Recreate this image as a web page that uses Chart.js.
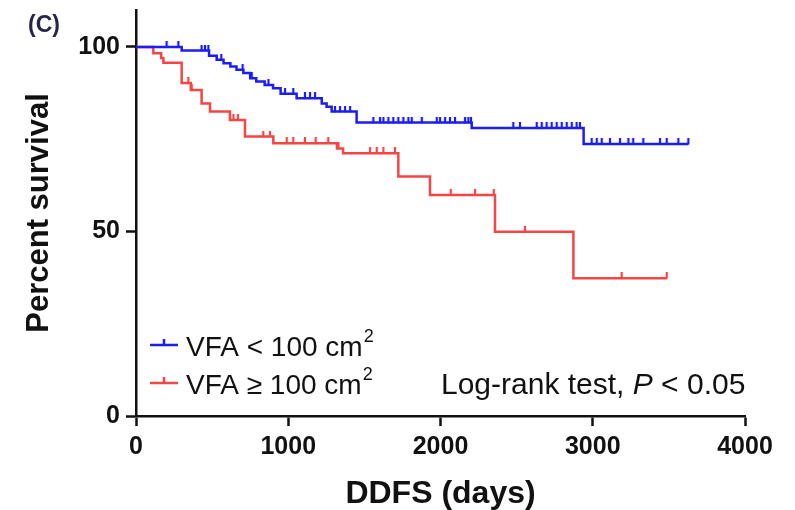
<!DOCTYPE html>
<html>
<head>
  <meta charset="utf-8">
  <title>DDFS by VFA</title>
  <script src="https://cdn.jsdelivr.net/npm/chart.js"></script>
  <style>
    body {
      margin: 0;
      background-color: #fff;
    }
    #wrap {
      width: 795px;
      height: 510px;
    }
  </style>
</head>
<body>
  <div id="wrap"><canvas id="chart"></canvas></div>
  <script>
    // Kaplan-Meier steps: day where survival changes, survival (%) after it
    const blueDays = [0, 300, 480, 530, 575, 620, 660, 705, 750, 790, 845, 900, 950, 1055, 1220, 1252, 1285, 1449, 2205, 2940, 3628];
    const blueSurv = [100, 99.0, 97.6, 96.5, 95.6, 94.7, 93.8, 92.9, 91.5, 90.6, 89.7, 88.8, 87.3, 86.1, 84.7, 83.8, 82.5, 79.5, 78.0, 73.7, 73.7];
    const blueCensor = [201, 278, 431, 453, 475, 560, 700, 760, 870, 979, 1033, 1110, 1143, 1176, 1307, 1340, 1373, 1406,
      1559, 1603, 1625, 1658, 1690, 1723, 1756, 1789, 1811, 1877, 1975, 1997, 2030, 2062, 2095, 2161, 2183, 2200,
      2478, 2522, 2632, 2665, 2697, 2730, 2763, 2796, 2829, 2862, 2894, 2916,
      2993, 3026, 3059, 3113, 3179, 3234, 3266, 3332, 3442, 3486, 3562, 3628];

    const redDays = [0, 114, 165, 180, 300, 360, 431, 486, 617, 716, 902, 1320, 1360, 1723, 1931, 2358, 2873, 3486];
    const redSurv = [100, 98.3, 97.0, 95.7, 90.2, 88.3, 84.7, 82.5, 80.2, 75.7, 73.9, 72.5, 71.2, 64.9, 59.9, 49.9, 37.3, 37.3];
    const redCensor = [344, 366, 640, 670, 836, 880, 990, 1033, 1110, 1180, 1263, 1330, 1537, 1581, 1625, 1701,
      2067, 2227, 2350, 2555, 3190, 3486];

    const xTicks = [0, 1000, 2000, 3000, 4000];
    const yTicks = [0, 50, 100];
    const legendLabels = ['VFA < 100 cm', 'VFA \u2265 100 cm'];
    const testNote = ['Log-rank test, ', 'P', ' < 0.05'];

    const BLUE = '#1c1cf5';
    const RED = '#f54545';
    const INK = '#111';
    const FONT = '"Liberation Sans", Arial, sans-serif';

    function survAt(days, surv, t) {
      let v = surv[0];
      for (let i = 0; i < days.length; i++) {
        if (days[i] <= t) v = surv[i];
      }
      return v;
    }

    // little upward tick used as the censor mark
    function censorMark(color) {
      const c = document.createElement('canvas');
      c.width = 4;
      c.height = 12;
      const g = c.getContext('2d');
      g.strokeStyle = color;
      g.lineWidth = 2.2;
      g.beginPath();
      g.moveTo(2, 0);
      g.lineTo(2, 6.5);
      g.stroke();
      return c;
    }

    const steps = (days, surv) => days.map((d, i) => ({ x: d, y: surv[i] }));
    const marks = (cens, days, surv) => cens.map(d => ({ x: d, y: survAt(days, surv, d) }));

    const notes = {
      id: 'notes',
      afterDraw(chart) {
        const ctx = chart.ctx;
        ctx.save();
        ctx.textBaseline = 'alphabetic';

        ctx.fillStyle = '#26264a';
        ctx.font = 'bold 23px ' + FONT;
        ctx.fillText('(C)', 28, 32);

        const rows = [{ color: BLUE, y: 345 }, { color: RED, y: 383 }];
        rows.forEach((row, i) => {
          ctx.strokeStyle = row.color;
          ctx.lineWidth = 2.5;
          ctx.beginPath();
          ctx.moveTo(150, row.y);
          ctx.lineTo(178, row.y);
          ctx.moveTo(164, row.y);
          ctx.lineTo(164, row.y - 6);
          ctx.stroke();

          ctx.fillStyle = INK;
          ctx.font = '28px ' + FONT;
          ctx.fillText(legendLabels[i], 186, row.y + 11);
          const w = ctx.measureText(legendLabels[i]).width;
          ctx.font = '18px ' + FONT;
          ctx.fillText('2', 186 + w + 1, row.y - 3);
        });

        let x = 441;
        const y = 394;
        testNote.forEach((part, i) => {
          ctx.font = (i === 1 ? 'italic ' : '') + '30px ' + FONT;
          ctx.fillText(part, x, y);
          x += ctx.measureText(part).width;
        });
        ctx.restore();
      }
    };

    const ctx = document.getElementById('chart').getContext('2d');
    new Chart(ctx, {
      type: 'line',
      data: {
        datasets: [
          {
            data: steps(blueDays, blueSurv),
            borderColor: BLUE,
            borderWidth: 2.5,
            stepped: 'before',
            pointRadius: 0
          },
          {
            data: marks(blueCensor, blueDays, blueSurv),
            showLine: false,
            pointStyle: censorMark(BLUE),
            pointRadius: 5
          },
          {
            data: steps(redDays, redSurv),
            borderColor: RED,
            borderWidth: 2.5,
            stepped: 'before',
            pointRadius: 0
          },
          {
            data: marks(redCensor, redDays, redSurv),
            showLine: false,
            pointStyle: censorMark(RED),
            pointRadius: 5
          }
        ]
      },
      options: {
        responsive: true,
        maintainAspectRatio: false,
        animation: false,
        devicePixelRatio: 1,
        layout: {
          padding: { left: 0, right: 50, top: 10, bottom: 0 }
        },
        plugins: {
          legend: { display: false },
          tooltip: { enabled: false }
        },
        scales: {
          x: {
            type: 'linear',
            min: 0,
            max: 4000,
            afterBuildTicks: s => { s.ticks = xTicks.map(v => ({ value: v })); },
            afterFit: s => {
              s.height = 94;
              s.paddingLeft = 0;
              s.paddingRight = 0;
            },
            ticks: {
              color: INK,
              padding: 6,
              callback: v => String(v),
              font: { family: FONT, size: 25, weight: 'bold' }
            },
            grid: {
              drawOnChartArea: false,
              tickLength: 10,
              tickWidth: 2.5,
              tickColor: INK
            },
            border: { color: INK, width: 2.5 },
            title: {
              display: true,
              text: 'DDFS (days)',
              color: INK,
              padding: { top: 0, bottom: 0 },
              font: { family: FONT, size: 32, weight: 'bold', lineHeight: 1 }
            }
          },
          y: {
            min: 0,
            max: 110,
            afterBuildTicks: s => { s.ticks = yTicks.map(v => ({ value: v })); },
            afterFit: s => {
              s.width = 136;
              s.paddingTop = 0;
              s.paddingBottom = 0;
            },
            ticks: {
              color: INK,
              padding: 6,
              callback: v => String(v),
              font: { family: FONT, size: 25, weight: 'bold' }
            },
            grid: {
              drawOnChartArea: false,
              tickLength: 10,
              tickWidth: 2.5,
              tickColor: INK
            },
            border: { color: INK, width: 2.5 },
            title: {
              display: true,
              text: 'Percent survival',
              color: INK,
              padding: { top: 24, bottom: 0 },
              font: { family: FONT, size: 31, weight: 'bold', lineHeight: 1 }
            }
          }
        }
      },
      plugins: [notes]
    });
  </script>
</body>
</html>
